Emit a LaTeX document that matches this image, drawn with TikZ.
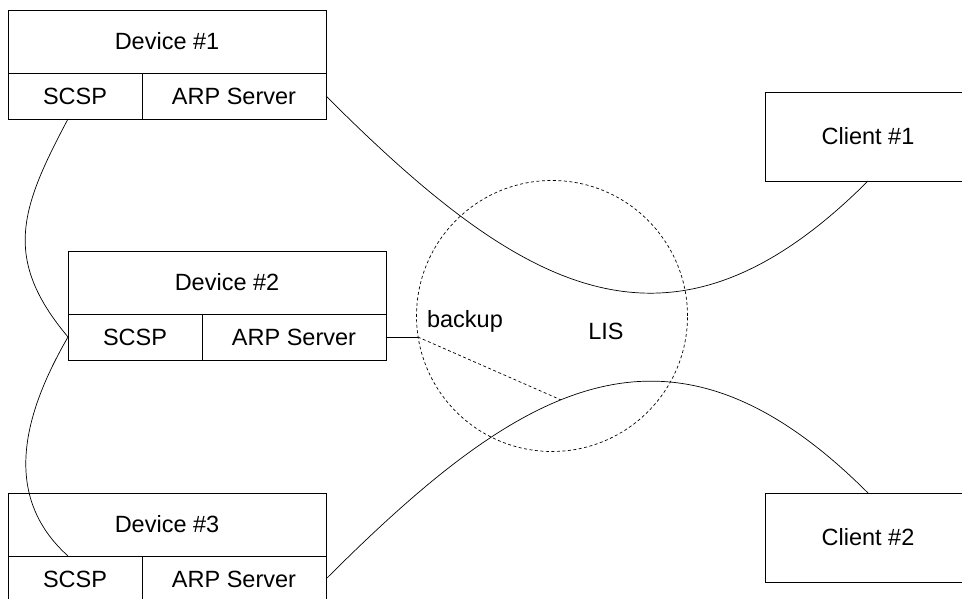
\documentclass[tikz,border=0pt]{standalone}
\usepackage{fontspec}
\setmainfont{Liberation Sans}
\usetikzlibrary{positioning,calc}

\begin{document}
\begin{tikzpicture}[x=1pt, y=1pt, font=\fontsize{23.5}{28}\selectfont,
  every node/.style={inner sep=0pt, outer sep=0pt},
  namecell/.style={draw, line width=0.8pt, minimum width=318pt, minimum height=63pt},
  scspcell/.style={draw, line width=0.8pt, minimum width=134pt, minimum height=46pt},
  arpcell/.style={draw, line width=0.8pt, minimum width=184pt, minimum height=46pt},
  clientbox/.style={draw, line width=0.8pt, minimum width=206pt, minimum height=89pt},
  lisring/.style={circle, draw, line width=0.7pt, dash pattern=on 3pt off 2.5pt, minimum size=271pt},
  link/.style={line width=0.7pt},
  dashlink/.style={line width=0.7pt, dash pattern=on 3pt off 2.5pt}]
  \useasboundingbox (0,0) rectangle (962,599);
  \clip (0,0) rectangle (962,599);

  \node[namecell, anchor=north west] (dev1) at (8,589) {Device \#1};
  \node[scspcell, below right=0pt of dev1.south west] (scsp1) {SCSP};
  \node[arpcell, right=0pt of scsp1] (arp1) {ARP Server};

  \node[namecell, anchor=north west] (dev2) at (68,348) {Device \#2};
  \node[scspcell, below right=0pt of dev2.south west] (scsp2) {SCSP};
  \node[arpcell, right=0pt of scsp2] (arp2) {ARP Server};

  \node[namecell, anchor=north west] (dev3) at (8,106) {Device \#3};
  \node[scspcell, below right=0pt of dev3.south west] (scsp3) {SCSP};
  \node[arpcell, right=0pt of scsp3] (arp3) {ARP Server};

  \node[clientbox, anchor=north west] (client1) at (765,507) {Client \#1};
  \node[clientbox, anchor=north west] (client2) at (765,106) {Client \#2};

  \node[lisring] (lis) at (552,283) {};
  \node[anchor=base] (backuplabel) at (465,271) {backup};
  \node[anchor=base] (lislabel) at (606,259) {LIS};

  \draw[link] (arp1.east) to[out=-45, in=-135, looseness=1.3] (client1.south);
  \draw[link] (arp3.east) to[out=45, in=135, looseness=1.3] coordinate[pos=0.43] (join) (client2.north);

  \draw[link] (scsp1.south -| dev2.west) to[out=-118, in=130, looseness=1.2] (scsp2.west);
  \draw[link] (scsp2.west) to[out=-120, in=138, looseness=1.05] (scsp3.north -| dev2.west);

  \coordinate (tap) at (arp2.east -| lis.188);
  \draw[link] (arp2.east) -- (tap);
  \draw[dashlink] (tap) -- (join);
\end{tikzpicture}
\end{document}
